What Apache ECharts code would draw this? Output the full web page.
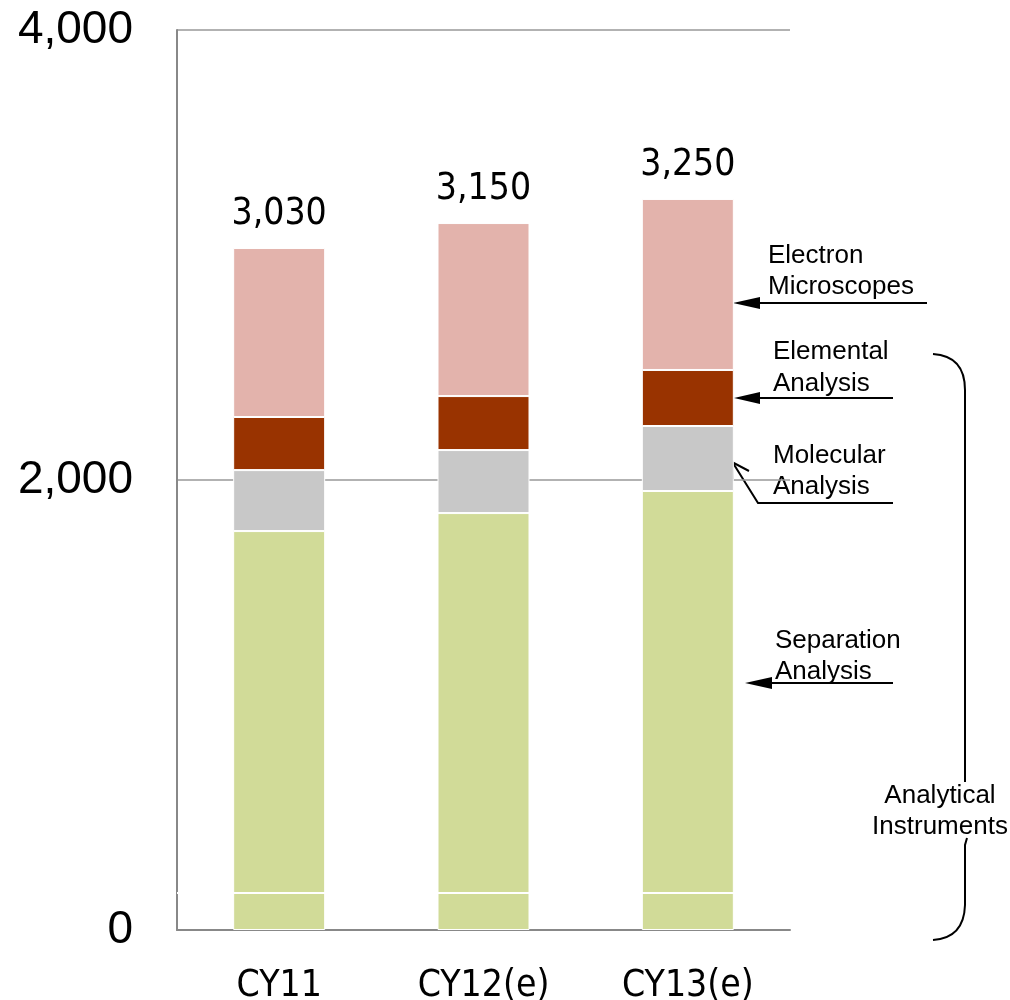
<!DOCTYPE html>
<html><head><meta charset="utf-8">
<script src="https://cdn.jsdelivr.net/npm/echarts@6/dist/echarts.min.js"></script>
<style>html,body{margin:0;padding:0;background:#fff}#c{width:1010px;height:1000px}</style>
</head><body><div id="c"></div>
<script>
const categories = ['CY11', 'CY12(e)', 'CY13(e)'];
const separation = [1773, 1853, 1951];
const molecular = [271, 280, 289];
const elemental = [236, 240, 249];
const electron = [751, 769, 760];
const totals = ['3,030', '3,150', '3,250'];
const yTicks = [0, 2000, 4000];

const narrow = "'Liberation Sans Narrow','DejaVu Sans Condensed',sans-serif";
const sans = "'Liberation Sans',Arial,sans-serif";
const chart = echarts.init(document.getElementById('c'), null, {renderer: 'canvas'});

function mkSeries(name, data, color, extra) {
  return Object.assign({
    name: name, type: 'bar', stack: 'a', data: data, barWidth: 92,
    itemStyle: {color: color, borderColor: '#fff', borderWidth: 1}
  }, extra || {});
}

const txt = (x, y, s, align) => ({type: 'text', x: x, y: y, style: {text: s, fontFamily: sans, fontSize: 26, fill: '#000', align: align || 'left', verticalAlign: 'middle'}});
const line = (pts) => ({type: 'polyline', shape: {points: pts}, style: {stroke: '#000', lineWidth: 2, fill: null}});
const head = (pts) => ({type: 'polygon', shape: {points: pts}, style: {fill: '#000'}});
const curve = (x1, y1, cx, cy, x2, y2) => ({type: 'bezierCurve', shape: {x1: x1, y1: y1, cpx1: cx, cpy1: cy, x2: x2, y2: y2}, style: {stroke: '#000', lineWidth: 2, fill: null}});

chart.setOption({
  animation: false,
  grid: {left: 177, right: 220, top: 30, bottom: 70, containLabel: false, outerBoundsMode: 'none'},
  xAxis: {
    type: 'category', data: categories,
    axisLine: {lineStyle: {color: '#888', width: 2}},
    axisTick: {inside: true, length: 9, lineStyle: {color: '#888', width: 2}},
    axisLabel: {fontFamily: narrow, fontSize: 37, color: '#000', margin: 38}
  },
  yAxis: {
    type: 'value', min: 0, max: 4000, interval: 2000,
    axisLine: {show: true, lineStyle: {color: '#888', width: 2}},
    axisTick: {show: false},
    splitLine: {lineStyle: {color: '#999', width: 1.5}},
    axisLabel: {fontFamily: sans, fontSize: 46, color: '#000', margin: 44, padding: [6, 0, 0, 0],
      formatter: v => yTicks.includes(v) ? v.toLocaleString('en-US') : ''}
  },
  series: [
    mkSeries('Separation Analysis', separation, '#d1db98', {
      markLine: {symbol: 'none', silent: true, label: {show: false}, z: 10,
        lineStyle: {color: '#fff', type: 'solid', width: 2}, data: [{yAxis: 165}]}
    }),
    mkSeries('Molecular Analysis', molecular, '#c8c8c8'),
    mkSeries('Elemental Analysis', elemental, '#993300'),
    mkSeries('Electron Microscopes', electron, '#e3b3ac', {
      label: {show: true, position: 'top', distance: 15, fontFamily: narrow, fontSize: 37, color: '#000',
        formatter: p => totals[p.dataIndex]}
    })
  ],
  graphic: [
    txt(768, 256, 'Electron'), txt(768, 287, 'Microscopes'),
    line([[927, 303], [758, 303]]), head([[733, 303], [760, 297], [760, 309]]),
    txt(773, 352, 'Elemental'), txt(773, 384, 'Analysis'),
    line([[893, 398], [758, 398]]), head([[734, 398], [760, 392], [760, 404]]),
    txt(773, 456, 'Molecular'), txt(773, 487, 'Analysis'),
    line([[893, 503], [758, 503], [733, 463]]), line([[749, 471], [732, 462], [733, 481]]),
    txt(775, 641, 'Separation'), txt(775, 672, 'Analysis'),
    line([[893, 683], [770, 683]]), head([[745, 683], [772, 677], [772, 689]]),
    txt(940, 796, 'Analytical', 'center'), txt(940, 827, 'Instruments', 'center'),
    curve(933, 354, 965, 356, 965, 390), line([[965, 390], [965, 782]]),
    line([[967, 838], [965, 845], [965, 905]]), curve(965, 905, 964, 938, 933, 940)
  ]
});
</script></body></html>
